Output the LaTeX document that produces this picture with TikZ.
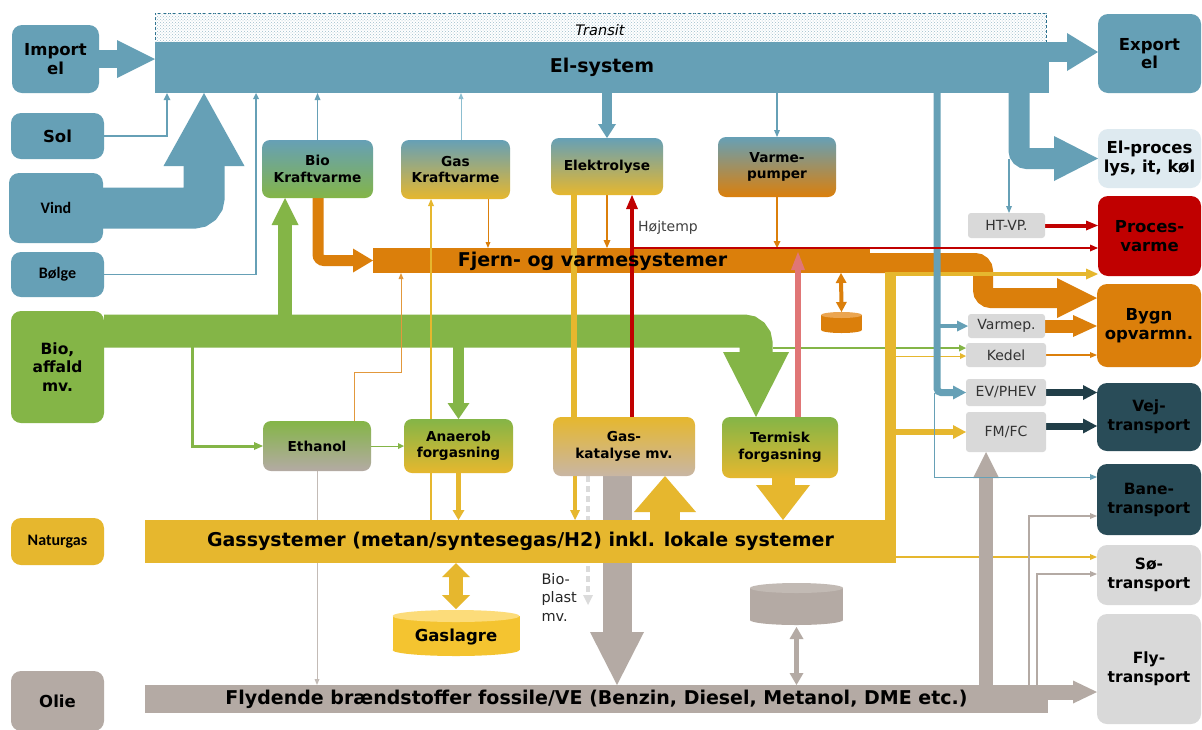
\documentclass[tikz,border=0pt]{standalone}
\usepackage{fontspec}
\setmainfont{DejaVu Sans}
\newfontfamily\calfont{Carlito}
\usetikzlibrary{arrows.meta,patterns}

% farver
\definecolor{elblue}{RGB}{102,160,182}
\definecolor{thinblue}{RGB}{140,190,208}
\definecolor{transitline}{RGB}{40,110,140}
\definecolor{biogreen}{RGB}{132,181,71}
\definecolor{heatorange}{RGB}{219,127,11}
\definecolor{heattop}{RGB}{235,165,80}
\definecolor{gasyellow}{RGB}{230,183,46}
\definecolor{storeyellow}{RGB}{244,196,48}
\definecolor{storetop}{RGB}{252,220,122}
\definecolor{oilgray}{RGB}{180,170,164}
\definecolor{oiltop}{RGB}{194,186,180}
\definecolor{catbeige}{RGB}{200,182,164}
\definecolor{procred}{RGB}{192,0,0}
\definecolor{pinkred}{RGB}{224,118,118}
\definecolor{darkteal}{RGB}{41,76,88}
\definecolor{vejarrow}{RGB}{33,62,72}
\definecolor{lightbox}{RGB}{217,217,217}
\definecolor{lightbluebox}{RGB}{222,234,240}

\newcommand\fsbar{\fontsize{19}{21}\selectfont\bfseries}
\newcommand\fsbox{\fontsize{16.5}{18.5}\selectfont\bfseries}
\newcommand\fsbio{\fontsize{15.5}{18.5}\selectfont\bfseries}
\newcommand\fstrans{\fontsize{15.5}{19}\selectfont\bfseries}
\newcommand\fsmid{\fontsize{13.7}{16.5}\selectfont\bfseries}
\newcommand\fssmall{\fontsize{14}{16}\selectfont}
\newcommand\fscal{\calfont\fontsize{16}{18}\selectfont\bfseries}

\pgfdeclarelayer{bars}
\pgfdeclarelayer{lines}
\pgfdeclarelayer{front}
\pgfsetlayers{bars,lines,main,front}

\tikzset{
  hd/.style 2 args={>={Triangle[length=#1pt,width=#2pt,line width=0pt]},->},
  hdd/.style 2 args={>={Triangle[length=#1pt,width=#2pt,line width=0pt]},<->},
  srcbox/.style={rectangle, rounded corners=10pt, inner sep=0pt, outer sep=0pt, align=center, font=\fsbox},
  convbox/.style={rectangle, rounded corners=8pt, inner sep=0pt, outer sep=0pt, align=center, font=\fsmid},
  techbox/.style={rectangle, rounded corners=3pt, fill=lightbox, inner sep=0pt, outer sep=0pt, font=\fssmall, text=black!80},
  sysbar/.style={rectangle, inner sep=0pt, outer sep=0pt, font=\fsbar},
}

\begin{document}
\begin{tikzpicture}[x=1pt,y=-1pt]
\useasboundingbox (0,0) rectangle (1202,729);

% kilder
\node[srcbox, fill=elblue, minimum width=87pt, minimum height=68pt] (import) at (55.5,59) {Import\\el};
\node[srcbox, fill=elblue, minimum width=93pt, minimum height=46pt] (sol) at (57.5,136) {Sol};
\node[srcbox, fill=elblue, minimum width=94pt, minimum height=70pt, font=\fscal] (vind) at (56,208) {Vind};
\node[srcbox, fill=elblue, minimum width=93pt, minimum height=45pt, font=\fscal] (bolge) at (57.5,274.5) {Bølge};
\node[srcbox, fill=biogreen, minimum width=93pt, minimum height=112pt, font=\fsbio] (bio) at (57.5,367) {Bio,\\affald\\mv.};
\node[srcbox, fill=gasyellow, minimum width=93pt, minimum height=47pt, font=\fscal] (naturgas) at (57.5,541.5) {Naturgas};
\node[srcbox, fill=oilgray, minimum width=93pt, minimum height=60pt] (olie) at (57.5,701) {Olie};

% anvendelser
\node[srcbox, fill=elblue, minimum width=103pt, minimum height=79pt] (export) at (1149.5,53.5) {Export\\el};
\node[srcbox, fill=lightbluebox, minimum width=103pt, minimum height=59pt] (elproc) at (1149.5,158.5) {El-proces\\lys, it, køl};
\node[srcbox, fill=procred, minimum width=103pt, minimum height=80pt] (procv) at (1149.5,236) {Proces-\\varme};
\node[srcbox, fill=heatorange, minimum width=104pt, minimum height=83pt] (bygn) at (1149,325.5) {Bygn\\opvarmn.};
\node[srcbox, fill=darkteal, minimum width=104pt, minimum height=68pt, font=\fstrans] (vej) at (1149,417) {Vej-\\transport};
\node[srcbox, fill=darkteal, minimum width=104pt, minimum height=71pt, font=\fstrans] (bane) at (1149,499.5) {Bane-\\transport};
\node[srcbox, fill=lightbox, minimum width=104pt, minimum height=60pt, font=\fstrans] (so) at (1149,575) {Sø-\\transport};
\node[srcbox, fill=lightbox, minimum width=104pt, minimum height=110pt, font=\fstrans] (fly) at (1149,669) {Fly-\\transport};

% teknologier
\node[techbox, minimum width=77pt, minimum height=25pt] (htvp) at (1006.5,225.5) {HT-VP.};
\node[techbox, minimum width=77pt, minimum height=24pt] (varmebox) at (1006.5,326) {Varmep.};
\node[techbox, minimum width=80pt, minimum height=24pt] (kedel) at (1006,355) {Kedel};
\node[techbox, minimum width=80pt, minimum height=27pt] (evphev) at (1006,392.5) {EV/PHEV};
\node[techbox, minimum width=80pt, minimum height=40pt] (fmfc) at (1006,432) {FM/FC};

% konvertering
\node[convbox, top color=elblue, bottom color=biogreen, minimum width=111pt, minimum height=58pt] (biokv) at (317.5,169) {Bio\\Kraftvarme};
\node[convbox, top color=elblue, bottom color=gasyellow, minimum width=109pt, minimum height=59pt] (gaskv) at (455.5,169.5) {Gas\\Kraftvarme};
\node[convbox, top color=elblue, bottom color=gasyellow, minimum width=112pt, minimum height=57pt] (elektro) at (607,166.5) {Elektrolyse};
\node[convbox, top color=elblue, bottom color=heatorange, minimum width=118pt, minimum height=60pt] (vpump) at (777,167) {Varme-\\pumper};
\node[convbox, top color=biogreen, bottom color=oilgray, minimum width=108pt, minimum height=50pt] (ethanol) at (317,446) {Ethanol};
\node[convbox, top color=biogreen, bottom color=gasyellow, minimum width=109pt, minimum height=54pt] (anaerob) at (458.5,446) {Anaerob\\forgasning};
\node[convbox, top color=gasyellow, bottom color=catbeige, minimum width=142pt, minimum height=59pt] (gaskat) at (624,446.5) {Gas-\\katalyse mv.};
\node[convbox, top color=biogreen, bottom color=gasyellow, minimum width=116pt, minimum height=61pt] (termisk) at (780,447.5) {Termisk\\forgasning};
\node[font=\fsbox] (gaslagre) at (456,637) {Gaslagre};
\node[align=left, anchor=west, font=\fontsize{14.5}{18.5}\selectfont, text=black!85] (bioplast) at (538,597) {Bio-\\plast\\mv.};

\begin{pgfonlayer}{bars}
\fill[white] (0,0) rectangle (1202,729);
% systembjaelker
\node[sysbar, fill=white, draw=transitline, dash pattern=on 3pt off 2pt, minimum width=891pt, minimum height=29pt] (transit) at (600.5,27.5) {};
\fill[pattern=crosshatch dots, pattern color=transitline!45] (transit.south west) rectangle (transit.north east);
\node[font=\fontsize{14.5}{16}\selectfont\itshape] (transittxt) at (600,30) {Transit};
\node[sysbar, fill=elblue, minimum width=894pt, minimum height=51pt] (elsys) at (602,67.5) {El-system};
\node[sysbar, fill=heatorange, minimum width=497pt, minimum height=25pt] (fjern) at (621.5,260.5) {};
\node[sysbar, fill=oilgray, minimum width=903pt, minimum height=28pt] (flyd) at (596.5,699)
  {Flydende brændstoffer fossile/VE (Benzin, Diesel, Metanol, DME etc.)};

% lagre
\fill[storeyellow] (392.5,616) rectangle (519.5,650);
\fill[storeyellow] (456,650) ellipse [x radius=63.5pt, y radius=6pt];
\fill[storetop] (456,616) ellipse [x radius=63.5pt, y radius=6pt];
\fill[oilgray] (750,588) rectangle (843,620);
\fill[oilgray] (796.5,620) ellipse [x radius=46.5pt, y radius=5pt];
\fill[oiltop] (796.5,588) ellipse [x radius=46.5pt, y radius=5pt];
\coordinate (oilstore) at (796.5,627);
\fill[heatorange] (821,315) rectangle (862,330);
\fill[heatorange] (841.5,330) ellipse [x radius=20.5pt, y radius=3pt];
\fill[heattop] (841.5,315) ellipse [x radius=20.5pt, y radius=3pt];

% bag gasbjaelken
\draw[oilgray, line width=29pt, hd={53}{54}] ([xshift=-7pt]gaskat.south) -- ([xshift=-7pt]gaskat.south |- flyd.north);
\draw[black!14, line width=4pt, dash pattern=on 6pt off 4pt, hd={10}{10}] ([xshift=-36pt]gaskat.south) -- ++(0,129);
\draw[oilgray!80, line width=1pt, hd={6}{5}] (ethanol.south) -- (ethanol.south |- flyd.north);
\node[sysbar, fill=gasyellow, minimum width=751pt, minimum height=43pt] (gassys) at (520.5,541.5)
  {Gassystemer (metan/syntesegas/H2) inkl. lokale systemer};
\end{pgfonlayer}

\begin{pgfonlayer}{lines}
% varme til bygninger
\draw[heatorange, line width=20pt, rounded corners=8pt, hd={40}{40}] ([yshift=-2.5pt]fjern.east) -| ([xshift=-114pt,yshift=27.5pt]bygn.west) -- ([yshift=27.5pt]bygn.west);

% biomasse
\coordinate (biobar) at (104,331);
\draw[biogreen, line width=33pt, rounded corners=12pt, hd={65}{66}] (biobar) -| ([xshift=-24pt]termisk.north);
\draw[biogreen, line width=14pt, hd={27}{27}] ([xshift=-32.5pt]biokv.south |- biobar) -- ([xshift=-32.5pt]biokv.south);
\draw[biogreen, line width=11pt, hd={16}{22}] (anaerob.north |- biobar) -- (anaerob.north);
\draw[biogreen, line width=3pt, hd={9}{8}] ([xshift=88pt]biobar) |- (ethanol.west);
\draw[biogreen, line width=1pt, hd={6}{6}] (ethanol.east) -- (anaerob.west |- ethanol.east);
\draw[biogreen, line width=1.2pt, hd={7}{7}] (773,348) -- ([yshift=7pt]kedel.west);

% el
\draw[elblue, line width=18pt, hd={38}{38}] (import.east) -- (import.east -| elsys.west);
\draw[elblue, line width=2.5pt, hd={7}{7}] (sol.east) -| ([xshift=12pt]elsys.south west);
\draw[elblue, line width=41pt, rounded corners=10pt, hd={73}{81}] (vind.east) -| ([xshift=49pt]elsys.south west);
\draw[elblue, line width=1.2pt, hd={6}{6}] (bolge.east) -| ([xshift=101pt]elsys.south west);
\draw[elblue, line width=1.8pt, hd={7}{6}] (biokv.north) -- (biokv.north |- elsys.south);
\draw[thinblue, line width=1pt, hd={6}{5}] ([xshift=5.5pt]gaskv.north) -- ([xshift=5.5pt]gaskv.north |- elsys.south);
\draw[elblue, line width=10pt, hd={14}{18}] (elsys.south -| elektro.north) -- (elektro.north);
\draw[elblue, line width=1.5pt, hd={7}{6}] (elsys.south -| vpump.north) -- (vpump.north);
\draw[elblue, line width=20pt, hd={31}{38}] ([yshift=15.5pt]elsys.east) -- ([yshift=15.5pt]elsys.east -| export.west);
\draw[elblue, line width=21pt, rounded corners=8pt, hd={44}{45}] ([xshift=-30pt]elsys.south east) |- (elproc.west);
\draw[elblue, line width=1.5pt, hd={7}{6}] ([xshift=2.5pt]htvp.north |- elproc.west) -- ([xshift=2.5pt]htvp.north);

% varme
\draw[heatorange, line width=11pt, rounded corners=6pt, hd={20}{24}] ([xshift=0.5pt]biokv.south) |- (fjern.west);
\draw[heatorange, line width=1pt, hd={6}{5}] ([xshift=32.5pt]gaskv.south) -- ([xshift=32.5pt]gaskv.south |- fjern.north);
\draw[heatorange, line width=2.5pt, hd={8}{7}] (elektro.south) -- (elektro.south |- fjern.north);
\draw[heatorange, line width=2pt, hd={7}{7}] (vpump.south) -- (vpump.south |- fjern.north);
\draw[heatorange!80, line width=1pt, hd={6}{5}] ([xshift=37pt]ethanol.north) -- ++(0,-49) -| ([xshift=28pt]fjern.south west);
\draw[heatorange, line width=13pt, hd={24}{22}] (varmebox.east) -- (varmebox.east -| bygn.west);
\draw[heatorange, line width=1.2pt, hd={7}{6}] (kedel.east) -- (kedel.east -| bygn.west);
\draw[heatorange, line width=4pt, hdd={10}{11}] ([xshift=-29pt]fjern.south east) -- (841.5,312);

% gas
\draw[gasyellow, line width=1.5pt, hd={7}{6}] ([xshift=-24.5pt]gaskv.south |- gassys.north) -- ([xshift=-24.5pt]gaskv.south);
\draw[gasyellow, line width=6pt] ([xshift=-33pt]elektro.south) -- ([xshift=-33pt]elektro.south |- gaskat.north);
\draw[gasyellow, line width=4pt, hd={10}{10}] ([xshift=-49pt]gaskat.south) -- ([xshift=-49pt]gaskat.south |- gassys.north);
\draw[gasyellow, line width=5pt, hd={10}{12}] (anaerob.south) -- (anaerob.south |- gassys.north);
\draw[gasyellow, line width=23pt, hd={35}{54}] ([xshift=3pt]termisk.south) -- ([xshift=3pt]termisk.south |- gassys.north);
\draw[gasyellow, line width=30pt, hd={36}{62}] ([xshift=41pt]gaskat.south |- gassys.north) -- ([xshift=41pt]gaskat.south);
\draw[gasyellow, line width=14pt, hdd={14}{28}] (gassys.south -| gaslagre) -- ++(0,46);
\draw[gasyellow, line width=11pt] ([xshift=-5.5pt]gassys.south east) -- (890.5,272);
\draw[gasyellow, line width=4pt, hd={12}{11}] (885,274) -- ([yshift=-38pt]procv.west);
\draw[gasyellow, line width=6pt, hd={13}{14}] (890,432) -- (fmfc.west);
\draw[gasyellow, line width=1pt, hd={6}{6}] (895,356) -- ([yshift=-1pt]kedel.west);
\draw[gasyellow, line width=1.2pt, hd={7}{6}] ([yshift=-15.5pt]gassys.east) -- ([yshift=-15.5pt]gassys.east -| so.west);

% flydende
\draw[oilgray, line width=5pt, hdd={12}{14}] (oilstore) -- (oilstore |- flyd.north);
\draw[oilgray, line width=14pt, hd={26}{26}] ([xshift=-20pt]fmfc.south |- flyd.north) -- ([xshift=-20pt]fmfc.south);
\draw[oilgray, line width=15pt, hd={24}{23}] ([yshift=7pt]flyd.east) -- ([yshift=7pt]flyd.east -| fly.west);
\draw[oilgray, line width=1.2pt, hd={7}{6}] ([xshift=-19pt]flyd.north east) |- ([yshift=-16.5pt]bane.west);
\draw[oilgray, line width=1.2pt, hd={7}{6}] ([xshift=-11pt]flyd.north east) |- ([yshift=1pt]so.west);

% el til transport
\draw[elblue, line width=7pt, rounded corners=4pt, hd={13}{14}] ([xshift=-112pt]elsys.south east) |- (evphev.west);
\draw[elblue, line width=4pt, hd={11}{11}] ([xshift=-112pt]elsys.south east |- varmebox.west) -- (varmebox.west);
\draw[elblue, line width=1pt, hd={7}{6}] ([xshift=-115pt]elsys.south east |- evphev.west) |- ([yshift=22.5pt]bane.west);
\draw[vejarrow, line width=7pt, hd={14}{15}] (evphev.east) -- (evphev.east -| vej.west);
\draw[vejarrow, line width=7pt, hd={14}{15}] ([yshift=6pt]fmfc.east) -- ([yshift=6pt]fmfc.east -| vej.west);

% hoejtemperatur
\draw[pinkred, line width=6pt, hd={18}{14}] ([xshift=18pt]termisk.north) -- (798,252);
\draw[procred, line width=4.5pt, hd={14}{12}] ([xshift=8pt]gaskat.north) -- ([xshift=8pt]gaskat.north |- elektro.south);
\draw[procred, line width=2pt, hd={8}{7}] ([xshift=8pt]gaskat.north |- fjern.north) -- (fjern.north -| procv.west);
\draw[procred, line width=4pt, hd={12}{10}] (htvp.east) -- (htvp.east -| procv.west);
\end{pgfonlayer}

\begin{pgfonlayer}{front}
\node[font=\fsbar] (fjerntxt) at (592.5,261) {Fjern- og varmesystemer};
\node[font=\fssmall, text=black!75] (hojtemp) at (668,228) {Højtemp};
\end{pgfonlayer}
\end{tikzpicture}
\end{document}
